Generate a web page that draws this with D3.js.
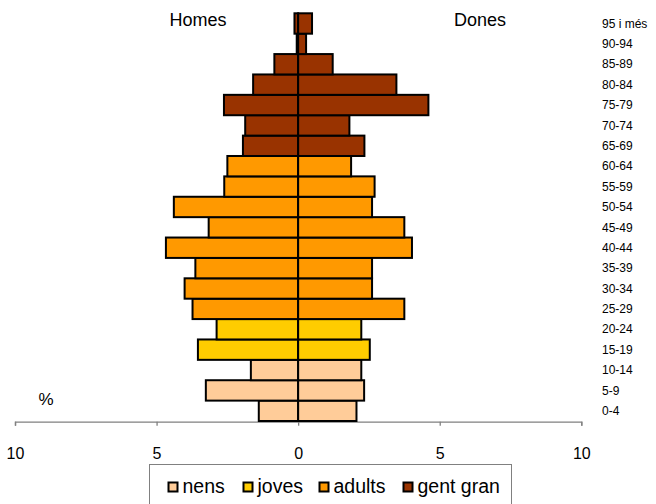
<!DOCTYPE html>
<html>
<head>
<meta charset="utf-8">
<script src="https://cdn.jsdelivr.net/npm/d3@7"></script>
<style>
html,body{margin:0;padding:0;background:#fff;}
svg{display:block;font-family:"Liberation Sans",Arial,sans-serif;}
</style>
</head>
<body>
<svg id="chart" width="656" height="504"></svg>
<script>
const ages = ["0-4","5-9","10-14","15-19","20-24","25-29","30-34","35-39","40-44","45-49","50-54","55-59","60-64","65-69","70-74","75-79","80-84","85-89","90-94","95 i més"];
const homes = [1.39,3.26,1.67,3.54,2.88,3.73,4.01,3.63,4.67,3.16,4.39,2.61,2.50,1.95,1.87,2.62,1.59,0.84,0.05,0.13];
const dones = [2.06,2.33,2.23,2.53,2.23,3.75,2.61,2.61,4.02,3.75,2.61,2.70,1.87,2.34,1.81,4.60,3.47,1.22,0.28,0.49];
const groupOf = ["nens","nens","nens","joves","joves","adults","adults","adults","adults","adults","adults","adults","adults","gent gran","gent gran","gent gran","gent gran","gent gran","gent gran","gent gran"];
const groups = ["nens","joves","adults","gent gran"];
const groupColors = ["#FFCC99","#FFCC00","#FF9900","#993300"];
const xTicks = [-10,-5,0,5,10];

const svg = d3.select("#chart");
const x = d3.scaleLinear().domain([-10,10]).range([15,581.3]);
const y = d3.scaleBand().domain(ages.slice().reverse()).range([13.3,421]).padding(0);
const color = d3.scaleOrdinal().domain(groups).range(groupColors);

const rows = ages.map((a,i)=>({age:a,h:homes[i],d:dones[i],g:groupOf[i]}));

// axis
const axisG = svg.append("g").attr("transform","translate(0,421.7)")
  .call(d3.axisBottom(x).tickValues(xTicks).tickFormat(d=>Math.abs(d)).tickSize(4).tickSizeOuter(4).tickPadding(22));
axisG.select(".domain").attr("stroke","#808080").attr("stroke-width",1.3);
axisG.selectAll(".tick line").attr("stroke","#808080").attr("stroke-width",1.3);
axisG.selectAll(".tick text").attr("font-size",16).attr("fill","#000").attr("font-family","Liberation Sans, Arial, sans-serif");

// bars
const bars = svg.append("g");
bars.selectAll("rect.h").data(rows).join("rect").attr("class","h")
  .attr("x",d=>x(-d.h)).attr("width",d=>x(0)-x(-d.h))
  .attr("y",d=>y(d.age)).attr("height",y.bandwidth())
  .attr("fill",d=>color(d.g)).attr("stroke","#000").attr("stroke-width",2);
bars.selectAll("rect.d").data(rows).join("rect").attr("class","d")
  .attr("x",x(0)).attr("width",d=>x(d.d)-x(0))
  .attr("y",d=>y(d.age)).attr("height",y.bandwidth())
  .attr("fill",d=>color(d.g)).attr("stroke","#000").attr("stroke-width",2);

// age labels
svg.append("g").selectAll("text").data(rows).join("text")
  .attr("x",602).attr("y",d=>y(d.age)+y.bandwidth()/2).attr("dy","0.35em")
  .attr("font-size",12).attr("fill","#000").text(d=>d.age);

// titles
svg.append("text").attr("x",198).attr("y",26).attr("text-anchor","middle").attr("font-size",18).text("Homes");
svg.append("text").attr("x",480).attr("y",26).attr("text-anchor","middle").attr("font-size",18).text("Dones");
svg.append("text").attr("x",46).attr("y",405).attr("text-anchor","middle").attr("font-size",17).text("%");

// legend
const leg = svg.append("g");
leg.append("rect").attr("x",149.5).attr("y",464.5).attr("width",362).attr("height",60)
  .attr("fill","#fff").attr("stroke","#808080").attr("stroke-width",1);
const legX = [168,243,319,403];
const legItems = leg.selectAll("g.item").data(groups).join("g").attr("class","item")
  .attr("transform",(d,i)=>`translate(${legX[i]},0)`);
legItems.append("rect").attr("x",0.5).attr("y",482.5).attr("width",9).attr("height",9)
  .attr("fill",d=>color(d)).attr("stroke","#000").attr("stroke-width",2);
legItems.append("text").attr("x",14.5).attr("y",493).attr("font-size",19.5).text(d=>d);
</script>
</body>
</html>
